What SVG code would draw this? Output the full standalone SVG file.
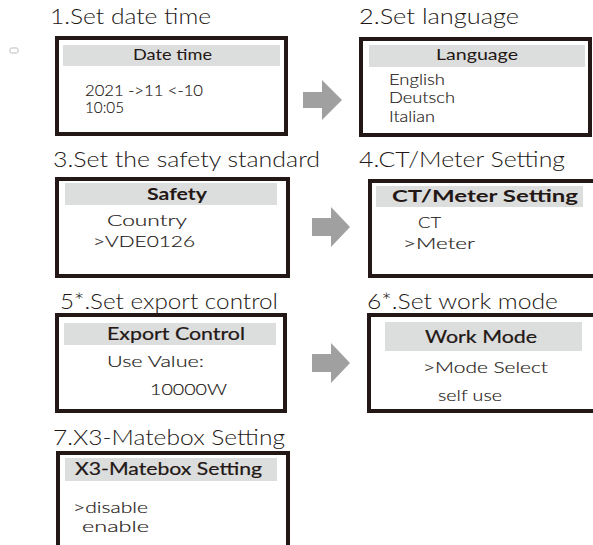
<svg xmlns="http://www.w3.org/2000/svg" width="593" height="545" viewBox="0 0 593 545">
<style>
text{font-family:"Lato","Open Sans",sans-serif}
.title{font-size:21px;font-weight:300;fill:#231815}
.box{fill:#fff;stroke:#231815;stroke-width:4}
.hdr{fill:#dcdddd}
.h{font-size:15px;fill:#231815}
.hm{font-size:17px;fill:#231815;stroke:#231815;stroke-width:0.2}
.hb{font-size:17px;font-weight:700;fill:#231815}
.t{font-size:15px;font-weight:300;fill:#231815;stroke:#231815;stroke-width:0.15}
.arr{fill:#a0a0a0}
</style>
<rect x="10" y="48" width="8" height="5" rx="1.5" fill="none" stroke="#bbb" stroke-width="1"/>
<g id="node1">
<text class="title" x="50" y="24" textLength="161" lengthAdjust="spacingAndGlyphs">1.Set date time</text>
<rect class="box" x="57" y="38" width="229" height="96"/>
<rect class="hdr" x="63" y="45" width="217" height="21"/>
<text class="h" x="133" y="60" textLength="79" lengthAdjust="spacingAndGlyphs">Date time</text>
<text class="t" x="85" y="96" font-size="13.5" textLength="118" lengthAdjust="spacingAndGlyphs">2021 -&gt;11 &lt;-10</text>
<text class="t" x="85" y="112.5" font-size="13.5" textLength="39" lengthAdjust="spacingAndGlyphs">10:05</text>
</g>
<g id="node2">
<text class="title" x="359" y="24" textLength="160" lengthAdjust="spacingAndGlyphs">2.Set language</text>
<rect class="box" x="361" y="39" width="229" height="96"/>
<rect class="hdr" x="369" y="45" width="216" height="22"/>
<text class="h" x="436" y="60" textLength="82" lengthAdjust="spacingAndGlyphs">Language</text>
<text class="t" x="389" y="85" textLength="56" lengthAdjust="spacingAndGlyphs">English</text>
<text class="t" x="389" y="103" textLength="66" lengthAdjust="spacingAndGlyphs">Deutsch</text>
<text class="t" x="389" y="122" textLength="46" lengthAdjust="spacingAndGlyphs">Italian</text>
</g>
<g id="node3">
<text class="title" x="53" y="167" textLength="267" lengthAdjust="spacingAndGlyphs">3.Set the safety standard</text>
<rect class="box" x="57" y="179" width="231" height="97"/>
<rect class="hdr" x="65" y="183" width="212" height="22"/>
<text class="hb" x="147" y="200" textLength="60" lengthAdjust="spacingAndGlyphs">Safety</text>
<text class="t" x="107" y="226" font-size="16" textLength="80" lengthAdjust="spacingAndGlyphs">Country</text>
<text class="t" x="93" y="247" font-size="16" textLength="102" lengthAdjust="spacingAndGlyphs">&gt;VDE0126</text>
</g>
<g id="node4">
<text class="title" x="359" y="167" textLength="206" lengthAdjust="spacingAndGlyphs">4.CT/Meter Setting</text>
<rect class="box" x="370" y="181" width="240" height="95"/>
<rect class="hdr" x="376" y="186" width="207" height="21"/>
<text class="hb" x="392" y="202" textLength="186" lengthAdjust="spacingAndGlyphs">CT/Meter Setting</text>
<text class="t" x="418" y="228" font-size="16" textLength="23" lengthAdjust="spacingAndGlyphs">CT</text>
<text class="t" x="403" y="249" font-size="16" textLength="72" lengthAdjust="spacingAndGlyphs">&gt;Meter</text>
</g>
<g id="node5">
<text class="title" x="60" y="309" textLength="218" lengthAdjust="spacingAndGlyphs">5*.Set export control</text>
<rect class="box" x="57" y="315" width="228" height="96"/>
<rect class="hdr" x="64" y="323" width="212" height="22"/>
<text class="hm" x="107" y="340" textLength="138" lengthAdjust="spacingAndGlyphs">Export Control</text>
<text class="t" x="107" y="367" font-size="16" textLength="97" lengthAdjust="spacingAndGlyphs">Use Value:</text>
<text class="t" x="150" y="395" font-size="16" textLength="77" lengthAdjust="spacingAndGlyphs">10000W</text>
</g>
<g id="node6">
<text class="title" x="367" y="309" textLength="191" lengthAdjust="spacingAndGlyphs">6*.Set work mode</text>
<rect class="box" x="369" y="315" width="240" height="96"/>
<rect class="hdr" x="385" y="322" width="197" height="29"/>
<text class="hm" x="425" y="343" font-size="18" textLength="112" lengthAdjust="spacingAndGlyphs">Work Mode</text>
<text class="t" x="423" y="373" font-size="17" textLength="125" lengthAdjust="spacingAndGlyphs">&gt;Mode Select</text>
<text class="t" x="438" y="401" font-size="17" textLength="64" lengthAdjust="spacingAndGlyphs">self use</text>
</g>
<g id="node7">
<text class="title" x="53" y="445" textLength="232" lengthAdjust="spacingAndGlyphs">7.X3-Matebox Setting</text>
<rect class="box" x="58" y="453" width="230" height="100"/>
<rect class="hdr" x="65" y="458" width="212" height="23"/>
<text class="hm" x="75" y="475" textLength="187" lengthAdjust="spacingAndGlyphs">X3-Matebox Setting</text>
<text class="t" x="73" y="513" font-size="16" textLength="75" lengthAdjust="spacingAndGlyphs">&gt;disable</text>
<text class="t" x="82" y="532" font-size="16" textLength="67" lengthAdjust="spacingAndGlyphs">enable</text>
</g>
<g id="connectors">
<path class="arr" d="M303,92 H322 V80 L342,100 L322,120 V108 H303 Z"/>
<path class="arr" d="M312,218 H331 V207 L350,227 L331,247 V236 H312 Z"/>
<path class="arr" d="M312,354 H331 V343 L350,363 L331,383 V372 H312 Z"/>
</g>
</svg>
